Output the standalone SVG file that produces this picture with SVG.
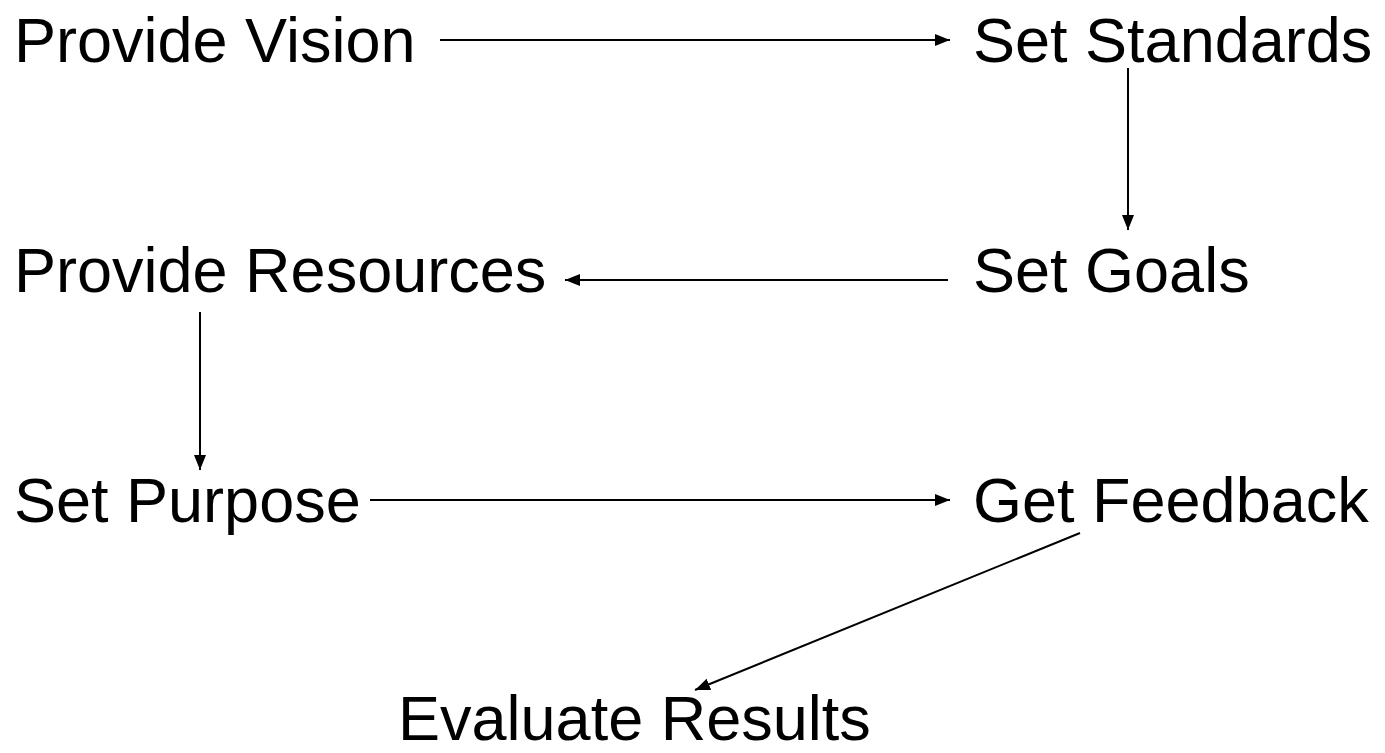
<svg xmlns="http://www.w3.org/2000/svg" width="1385" height="753" viewBox="0 0 1385 753">
<style>
.lbl{font-family:"Liberation Sans",Arial,sans-serif;font-size:63px;fill:#000}
.con{stroke:#000;stroke-width:2;fill:none;marker-end:url(#ah)}
</style>
<defs>
<marker id="ah" markerUnits="userSpaceOnUse" markerWidth="16" markerHeight="14" refX="15" refY="6" orient="auto">
<path d="M0,0 L15,6 L0,12 Z" fill="#000"/>
</marker>
</defs>
<rect width="1385" height="753" fill="#fff"/>
<g id="n-vision"><text class="lbl" x="14" y="62">Provide Vision</text></g>
<g id="n-standards"><text class="lbl" x="973" y="62">Set Standards</text></g>
<g id="n-goals"><text class="lbl" x="973" y="292">Set Goals</text></g>
<g id="n-resources"><text class="lbl" x="14" y="292">Provide Resources</text></g>
<g id="n-purpose"><text class="lbl" x="14" y="522">Set Purpose</text></g>
<g id="n-feedback"><text class="lbl" x="973" y="522">Get Feedback</text></g>
<g id="n-evaluate"><text class="lbl" x="398" y="740">Evaluate Results</text></g>
<g id="connectors">
<line class="con" x1="440" y1="40" x2="950" y2="40"/>
<line class="con" x1="1128" y1="68" x2="1128" y2="230"/>
<line class="con" x1="948" y1="280" x2="565" y2="280"/>
<line class="con" x1="200" y1="312" x2="200" y2="470"/>
<line class="con" x1="370" y1="500" x2="950" y2="500"/>
<line class="con" x1="1080" y1="533" x2="695" y2="690"/>
</g>
</svg>
